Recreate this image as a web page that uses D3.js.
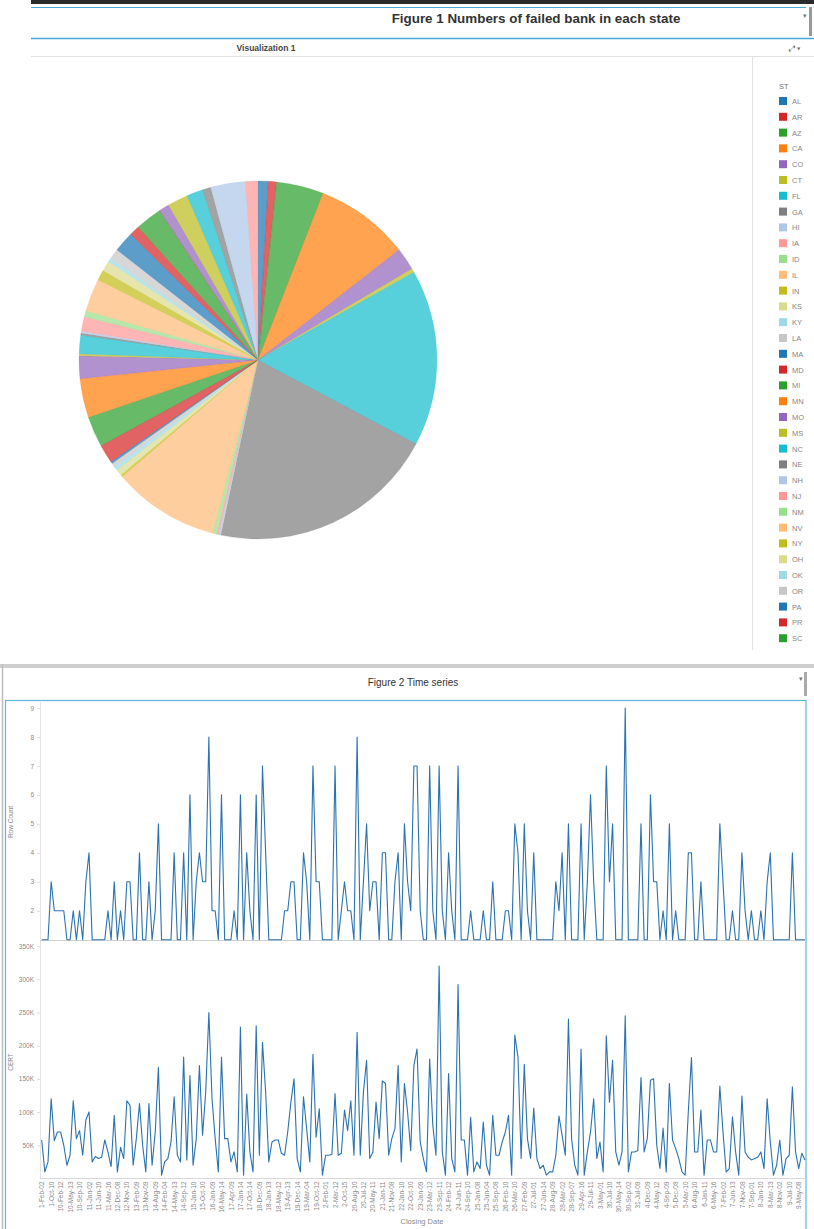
<!DOCTYPE html>
<html><head><meta charset="utf-8">
<script src="https://cdn.jsdelivr.net/npm/d3@7"></script>
<style>html,body{margin:0;padding:0;background:#fff;} svg{display:block;font-family:"Liberation Sans",Arial,sans-serif;}</style>
</head><body>
<svg id="c" width="814" height="1229"></svg>
<script>
// ---------- DATA ----------
const states = ["AL","AR","AZ","CA","CO","CT","FL","GA","HI","IA","ID","IL","IN","KS","KY","LA","MA","MD","MI","MN","MO","MS","NC","NE","NH","NJ","NM","NV","NY","OH","OK","OR","PA","PR","SC","SD","TN","TX","UT","VA","WA","WI"];
const failedCounts = [5,4,23,46,11,2,86,111,1,1,2,52,1,3,2,2,1,9,15,19,11,1,9,1,1,7,3,16,5,5,2,5,10,5,13,0,5,10,8,4,17,6];
const palette = ["#1f77b4","#d62728","#2ca02c","#ff7f0e","#9467bd","#bcbd22","#17becf","#7f7f7f","#aec7e8","#ff9896","#98df8a","#ffbb78","#c2bc1c","#dbdb8d","#9edae5","#c7c7c7"];

const rowCount = [
1,1,1,3,2,2,2,2,1,1, 2,1,2,1,3,4,1,1,1,1, 1,2,1,3,1,2,1,3,3,1, 1,4,1,1,3,1,2,5,1,1,
1,1,4,1,1,4,1,6,1,3, 4,3,3,8,2,2,1,6,1,1, 1,2,1,6,1,4,2,1,6,1, 7,4,1,1,1,1,1,2,2,3,
3,1,1,4,3,1,7,3,3,1, 1,1,1,7,1,2,3,2,2,1, 8,1,3,5,2,3,3,1,4,4, 1,1,3,4,1,
5,3,2,7,7,2,1,1,7,2, 1,7,2,1,4,2,1,7,1,1, 1,2,1,1,1,2,1,1,3,1, 1,1,2,2,1,5,4,1,5,2,
1,4,1,1,1,1,1,1,3,2, 4,1,5,1,1,1,5,1,3,6, 3,1,1,1,7,3,5,1,1,1, 9,1,1,1,1,5,1,1,6,3,
3,1,2,1,5,1,2,1,1,1, 4,4,1,1,3,1,1,1,1,1, 5,3,1,1,2,1,1,4,2,1, 2,1,1,2,1,3,4,1,1,1,
1,1,1,4,1,1,1,1];
const certThousands = [
58,10,25,120,57,70,70,50,20,35, 117,60,72,35,88,100,25,33,30,32, 58,40,18,95,10,47,30,117,110,20,
60,113,50,10,113,20,70,167,5,25, 30,55,123,35,25,183,28,155,20,60, 170,65,130,250,120,60,10,183,60,60,
25,40,10,228,5,127,40,10,230,35, 205,130,25,55,58,58,38,35,70,115, 150,30,10,123,75,25,187,62,105,5,
35,35,36,128,35,38,103,72,117,35, 220,35,130,178,30,40,115,60,147,143, 35,60,75,170,25,
143,100,42,170,195,55,30,10,180,80, 35,320,40,5,158,30,10,292,58,58, 5,92,10,25,15,85,20,5,95,35,
35,55,70,95,5,216,183,30,172,60, 30,106,30,15,20,5,10,10,35,94, 65,35,240,60,20,5,195,5,40,70,
120,30,55,10,215,115,178,40,20,40, 245,10,40,40,42,152,40,60,148,150, 50,15,76,10,143,58,45,30,10,5,
100,182,40,40,103,5,58,58,40,40, 139,70,10,15,93,40,5,124,40,32, 28,30,32,40,15,120,55,5,20,58,
5,30,35,138,40,15,38,28];
const dateTickLabels = ["1-Feb-02","1-Oct-10","10-Feb-12","10-May-13","10-Sep-10","11-Jan-02","11-Jun-10","11-Mar-16","12-Dec-08","12-Nov-10","13-Feb-09","13-Nov-09","14-Aug-09","14-Feb-04","14-May-13","14-Sep-12","15-Jan-10","15-Oct-10","16-Jan-09","16-May-14","17-Apr-09","17-Jan-14","17-Oct-14","18-Dec-09","18-Jan-13","18-May-12","19-Apr-13","19-Dec-14","19-Mar-04","19-Oct-12","2-Feb-01","2-Mar-12","2-Oct-15","20-Aug-10","20-Jul-12","20-May-11","21-Jan-11","21-Nov-08","22-Jan-10","22-Oct-10","23-Jan-09","23-Mar-12","23-Sep-11","24-Feb-12","24-Jun-11","24-Sep-10","25-Jan-08","25-Jun-04","25-Sep-08","26-Feb-10","26-Mar-10","27-Feb-09","27-Jul-01","27-Jun-14","28-Aug-09","28-Mar-02","28-Sep-07","29-Apr-16","29-Jul-11","3-May-01","30-Jul-10","30-May-14","30-Sep-02","31-Jul-09","4-Dec-09","4-May-12","4-Sep-09","5-Dec-08","5-Mar-10","6-Aug-10","6-Jan-11","6-May-16","7-Feb-02","7-Jun-13","7-Nov-08","7-Sep-01","8-Jan-10","8-Mar-13","8-Nov-02","9-Jul-10","9-May-08"];
const rowTicks = [2,3,4,5,6,7,8,9];
const certTicks = [50,100,150,200,250,300,350];

// ---------- FIGURE 1 ----------
const svg = d3.select("#c");
const blue = "#4aa8d6";
svg.append("rect").attr("x",31).attr("y",0).attr("width",783).attr("height",4).attr("fill","#2a2a2a");
svg.append("line").attr("x1",31).attr("x2",806).attr("y1",7.5).attr("y2",7.5).attr("stroke",blue).attr("stroke-width",1.2);
svg.append("line").attr("x1",31).attr("x2",814).attr("y1",38.5).attr("y2",38.5).attr("stroke",blue).attr("stroke-width",1.5);
svg.append("text").attr("x",536).attr("y",23).attr("text-anchor","middle").attr("font-size",13.4).attr("font-weight","bold").attr("fill","#333").text("Figure 1 Numbers of failed bank in each state");
svg.append("text").attr("x",803).attr("y",18).attr("font-size",7).attr("fill","#777").text("▾");
svg.append("rect").attr("x",809).attr("y",7).attr("width",3).attr("height",29).attr("fill","#999");
svg.append("text").attr("x",266).attr("y",51).attr("text-anchor","middle").attr("font-size",8.5).attr("font-weight","bold").attr("fill","#444").text("Visualization 1");
svg.append("text").attr("x",789).attr("y",51).attr("font-size",8).attr("fill","#666").text("⤢ ▾");
svg.append("line").attr("x1",31).attr("x2",814).attr("y1",56.5).attr("y2",56.5).attr("stroke","#e2e2e2");
svg.append("line").attr("x1",752.5).attr("x2",752.5).attr("y1",57).attr("y2",650).attr("stroke","#e2e2e2");

const color = d3.scaleOrdinal().domain(states).range(palette);
const pie = d3.pie().sort(null).value(d=>d.v).startAngle(0).endAngle(2*Math.PI);
const pieData = pie(states.map((s,i)=>({s, v: failedCounts[i]})));
const arc = d3.arc().innerRadius(0).outerRadius(179);
svg.append("g").attr("transform","translate(258,360)")
  .selectAll("path").data(pieData).join("path")
  .attr("d",arc).attr("fill",d=>color(d.data.s)).attr("fill-opacity",0.72)
  .attr("stroke",d=>color(d.data.s)).attr("stroke-opacity",0.5).attr("stroke-width",0.4);

svg.append("clipPath").attr("id","legclip").append("rect").attr("x",753).attr("y",60).attr("width",61).attr("height",588);
const leg = svg.append("g").attr("clip-path","url(#legclip)");
leg.append("text").attr("x",779).attr("y",89).attr("font-size",7.5).attr("fill","#777").text("ST");
const legY = d3.scaleLinear().domain([0,1]).range([101,116.8]);
const legItems = leg.selectAll("g.li").data(states.filter((s,i)=>failedCounts[i]>0 || true)).join("g").attr("class","li")
  .attr("transform",(d,i)=>`translate(0,${legY(i)})`);
legItems.append("rect").attr("x",779).attr("y",-4).attr("width",8).attr("height",8).attr("fill",d=>color(d));
legItems.append("text").attr("x",792).attr("y",3).attr("font-size",7.5).attr("fill","#888").text(d=>d);

// ---------- FIGURE 2 ----------
svg.append("rect").attr("x",0).attr("y",664).attr("width",814).attr("height",4).attr("fill","#cfcfcf");
svg.append("line").attr("x1",2.5).attr("x2",2.5).attr("y1",664).attr("y2",1229).attr("stroke","#bdbdbd").attr("stroke-width",1.5);
svg.append("text").attr("x",413).attr("y",686).attr("text-anchor","middle").attr("font-size",10).attr("fill","#333").text("Figure 2 Time series");
svg.append("text").attr("x",799).attr("y",681).attr("font-size",7).attr("fill","#777").text("▾");
svg.append("rect").attr("x",804).attr("y",672).attr("width",3).attr("height",24).attr("fill","#aaa");
svg.append("rect").attr("x",5.5).attr("y",700.5).attr("width",800.5).attr("height",540).attr("fill","none").attr("stroke","#5db7da").attr("stroke-width",1.2);

const x = d3.scalePoint().domain(d3.range(rowCount.length)).range([41.7,805]);
const yRow = d3.scaleLinear().domain([1,9]).range([939.7,708]);
const yCert = d3.scaleLinear().domain([0,350]).range([1178.5,946]);
const axisCol = "#8a8a8a";

// axes lines
svg.append("line").attr("x1",40.5).attr("x2",40.5).attr("y1",702).attr("y2",1178.5).attr("stroke","#e3e3e3");
svg.append("line").attr("x1",40).attr("x2",806).attr("y1",940.5).attr("y2",940.5).attr("stroke","#d0d0d0");
svg.append("line").attr("x1",40).attr("x2",806).attr("y1",1178.5).attr("y2",1178.5).attr("stroke","#d8d8d8");

const gRowAx = svg.append("g").attr("transform","translate(40,0)")
  .call(d3.axisLeft(yRow).tickValues(rowTicks).tickSize(3).tickFormat(d3.format("d")));
const gCertAx = svg.append("g").attr("transform","translate(40,0)")
  .call(d3.axisLeft(yCert).tickValues(certTicks).tickSize(3).tickFormat(d=>d+"K"));
[gRowAx,gCertAx].forEach(g=>{
  g.select(".domain").remove();
  g.selectAll(".tick line").attr("stroke","#ddd");
  g.selectAll(".tick text").attr("fill",axisCol).attr("font-size",6.5).attr("font-family","Liberation Sans, Arial, sans-serif");
});
svg.append("text").attr("transform","translate(13,822) rotate(-90)").attr("text-anchor","middle").attr("font-size",6.5).attr("fill",axisCol).text("Row Count");
svg.append("text").attr("transform","translate(13,1062) rotate(-90)").attr("text-anchor","middle").attr("font-size",6.5).attr("fill",axisCol).text("CERT");

const lineCol = "#2a72b0";
svg.append("path").datum(rowCount).attr("fill","none").attr("stroke",lineCol).attr("stroke-width",1.1).attr("stroke-linejoin","round")
  .attr("d",d3.line().x((d,i)=>x(i)).y(d=>yRow(d)));
svg.append("path").datum(certThousands).attr("fill","none").attr("stroke",lineCol).attr("stroke-width",1.1).attr("stroke-linejoin","round")
  .attr("d",d3.line().x((d,i)=>x(i)).y(d=>yCert(d)));

// x tick labels: one label every 3rd point
const tickIdx = dateTickLabels.map((t,k)=>k*3);
const gx = svg.append("g").attr("transform","translate(0,1178.5)")
  .call(d3.axisBottom(x).tickValues(tickIdx).tickSize(0).tickFormat(i=>dateTickLabels[i/3]));
gx.select(".domain").remove();
gx.selectAll(".tick text").attr("transform","rotate(-90)").attr("text-anchor","end").attr("x",-3).attr("y",0).attr("dy","0.32em")
  .attr("fill",axisCol).attr("font-size",6.5).attr("font-family","Liberation Sans, Arial, sans-serif");
svg.append("text").attr("x",422).attr("y",1224).attr("text-anchor","middle").attr("font-size",7.5).attr("fill",axisCol).text("Closing Date");
</script>
</body></html>
